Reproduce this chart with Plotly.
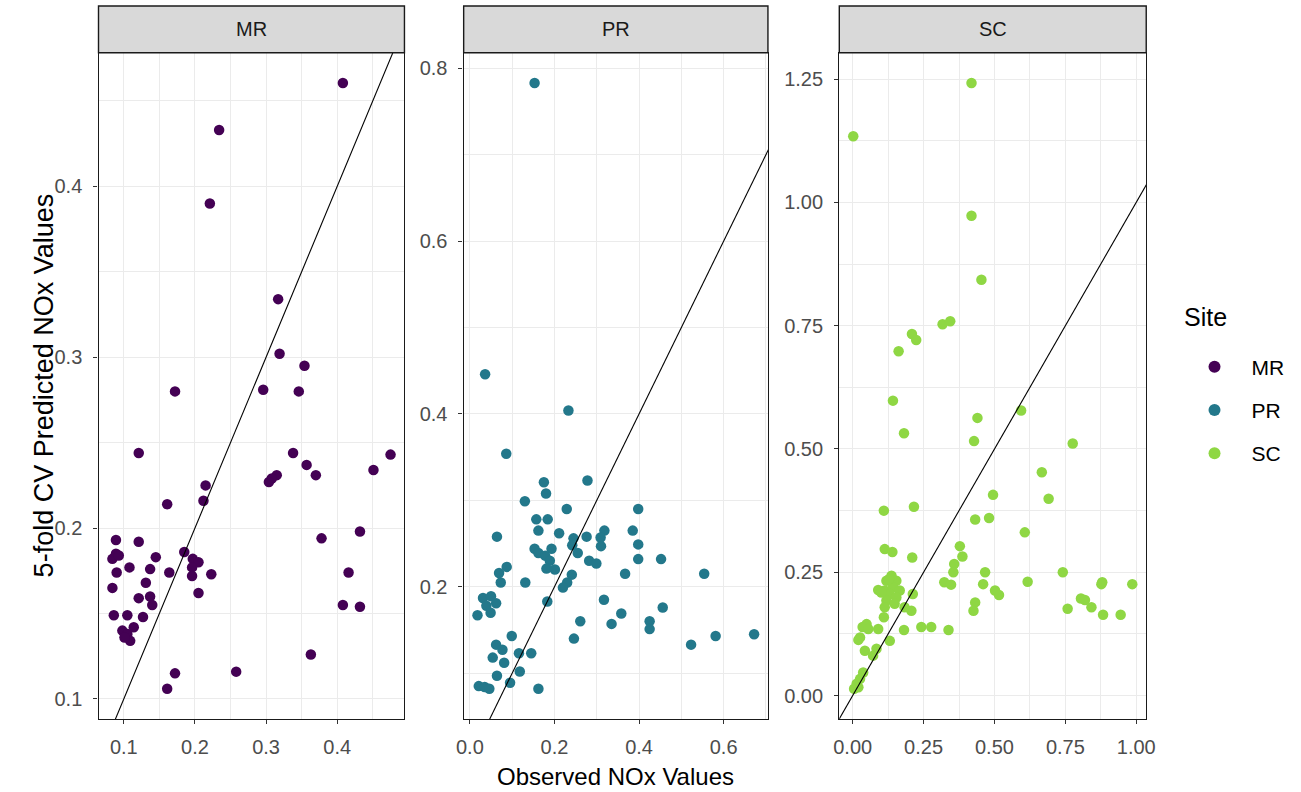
import plotly.graph_objects as go

W, H = 1301, 792

sites = ["MR", "PR", "SC"]
colors = ["#440154", "#23788B", "#8FD744"]

mr_x = [0.319,0.354,0.172,0.296,0.346,0.121,0.338,0.475,0.357,0.451,0.370,0.315,0.308,0.304,0.215,0.212,0.161,0.432,0.378,0.089,
        0.121,0.089,0.084,0.093,0.145,0.185,0.197,0.205,0.196,0.196,0.223,0.164,0.090,0.108,0.137,0.131,0.084,0.205,0.121,0.137,
        0.140,0.086,0.105,0.127,0.098,0.105,0.114,0.109,0.101,0.408,0.432,0.416,0.363,0.258,0.172,0.161,0.408,0.234,0.221,0.317]
mr_y = [0.302,0.295,0.280,0.281,0.280,0.244,0.244,0.243,0.237,0.234,0.231,0.231,0.229,0.227,0.225,0.216,0.214,0.198,0.194,0.193,
        0.192,0.185,0.182,0.184,0.183,0.186,0.182,0.180,0.177,0.172,0.173,0.174,0.174,0.177,0.176,0.168,0.165,0.162,0.159,0.160,
        0.155,0.149,0.149,0.148,0.140,0.138,0.142,0.134,0.136,0.155,0.154,0.174,0.126,0.116,0.115,0.106,0.4605,0.433,0.390,0.334]

pr_x = [0.036,0.233,0.086,0.278,0.175,0.180,0.130,0.229,0.398,0.157,0.184,0.162,0.211,0.064,0.245,0.276,0.318,0.309,0.385,0.310,
        0.398,0.242,0.255,0.153,0.193,0.162,0.178,0.189,0.181,0.201,0.282,0.299,0.398,0.452,0.367,0.554,0.241,0.230,0.220,0.087,
        0.069,0.073,0.131,0.031,0.050,0.062,0.039,0.049,0.018,0.183,0.317,0.456,0.358,0.261,0.335,0.425,0.425,0.672,0.581,0.523,
        0.246,0.099,0.062,0.077,0.054,0.081,0.116,0.145,0.064,0.118,0.095,0.021,0.035,0.046,0.162,0.153]
pr_y = [0.446,0.404,0.354,0.323,0.321,0.308,0.299,0.290,0.290,0.278,0.278,0.265,0.262,0.258,0.256,0.258,0.265,0.257,0.265,0.247,
        0.249,0.248,0.239,0.244,0.244,0.239,0.236,0.230,0.221,0.220,0.230,0.227,0.232,0.232,0.215,0.215,0.214,0.205,0.199,0.223,
        0.216,0.205,0.205,0.187,0.189,0.181,0.178,0.170,0.167,0.183,0.185,0.176,0.169,0.160,0.157,0.160,0.151,0.145,0.143,0.133,
        0.140,0.143,0.133,0.127,0.118,0.112,0.123,0.123,0.097,0.102,0.089,0.085,0.084,0.082,0.082,0.783]

sc_x = [0.142,0.440,0.594,0.181,0.428,0.776,0.667,0.495,0.691,0.110,0.216,0.432,0.481,0.607,0.113,0.140,0.210,0.378,0.387,0.358,
        0.355,0.467,0.741,0.323,0.347,0.460,0.617,0.502,0.516,0.880,0.986,0.877,0.212,0.432,0.426,0.758,0.805,0.819,0.842,0.883,
        0.945,0.181,0.242,0.277,0.338,0.137,0.154,0.119,0.090,0.113,0.142,0.166,0.131,0.154,0.119,0.148,0.113,0.207,0.183,0.110,
        0.090,0.049,0.035,0.055,0.026,0.020,0.131,0.043,0.072,0.084,0.037,0.026,0.014,0.005,0.020,0.101,0.128,0.002,0.419,0.419,
        0.454,0.162,0.209,0.224,0.317,0.344]
sc_y = [0.598,0.563,0.578,0.532,0.516,0.511,0.453,0.407,0.399,0.375,0.383,0.357,0.360,0.331,0.297,0.291,0.280,0.303,0.282,0.267,
        0.250,0.250,0.250,0.230,0.225,0.226,0.231,0.213,0.204,0.230,0.226,0.226,0.206,0.189,0.172,0.176,0.197,0.194,0.179,0.164,
        0.164,0.133,0.139,0.139,0.133,0.243,0.233,0.233,0.214,0.213,0.220,0.213,0.206,0.199,0.193,0.186,0.179,0.172,0.179,0.159,
        0.135,0.145,0.139,0.135,0.118,0.113,0.111,0.091,0.081,0.095,0.047,0.034,0.024,0.014,0.017,0.209,0.236,1.134,1.242,0.973,
        0.843,0.698,0.733,0.721,0.753,0.759]

xs = [mr_x, pr_x, sc_x]
ys = [mr_y, pr_y, sc_y]
x_dticks = [0.1, 0.2, 0.25]
y_dticks = [0.1, 0.2, 0.25]
x_fmt = [".1f", ".1f", ".2f"]
y_fmt = [".1f", ".1f", ".2f"]

# panel pixel boxes (left, right); shared top/bottom
panels_px = [(91.7, 401.7), (461.7, 770.0), (842.3, 1153.3)]
top_px, bot_px, strip_top_px = 52.7, 719.0, 6.0

FONT = "Liberation Sans, Arial, sans-serif"
TICK = 20
STRIP = 20
TITLE = 24
YTITLE = 27
LEG = 21
LEGTITLE = 25

def px(x):
    return x / W

def py(y):
    return 1 - y / H

def expand(v):
    lo, hi = min(v), max(v)
    d = (hi - lo) * 0.05
    return [lo - d, hi + d]

fig = go.Figure()
layout = {}
shapes = []
annotations = []

for i, s in enumerate(sites):
    n = i + 1
    xa = "x" if n == 1 else f"x{n}"
    ya = "y" if n == 1 else f"y{n}"
    xr = expand(xs[i])
    yr = expand(ys[i])
    fig.add_trace(go.Scatter(
        x=xs[i], y=ys[i], mode="markers", name=s, legendgroup=s,
        marker=dict(color=colors[i], size=10.5, line=dict(width=0)),
        xaxis=xa, yaxis=ya, cliponaxis=True))
    lo = min(xr[0], yr[0]); hi = max(xr[1], yr[1])
    fig.add_trace(go.Scatter(
        x=[lo, hi], y=[lo, hi], mode="lines", showlegend=False,
        line=dict(color="black", width=1.1), xaxis=xa, yaxis=ya, hoverinfo="skip"))

    l, r = panels_px[i]
    common = dict(
        showgrid=True, gridcolor="#EBEBEB", gridwidth=1.2,
        showline=True, mirror=True, linecolor="#1A1A1A", linewidth=1.4,
        ticks="outside", ticklen=4, tickwidth=1.2, tickcolor="#333333",
        tickfont=dict(family=FONT, size=TICK, color="#4D4D4D"),
        zeroline=False, tick0=0,
    )
    layout["xaxis" if n == 1 else f"xaxis{n}"] = dict(
        common, domain=[px(l), px(r)], range=xr, dtick=x_dticks[i],
        tickformat=x_fmt[i], anchor=ya, ticklabelstandoff=6,
        minor=dict(dtick=x_dticks[i] / 2, tick0=0, showgrid=True,
                   gridcolor="#EBEBEB", gridwidth=0.7, ticks=""))
    layout["yaxis" if n == 1 else f"yaxis{n}"] = dict(
        common, domain=[py(bot_px), py(top_px)], range=yr, dtick=y_dticks[i],
        tickformat=y_fmt[i], anchor=xa, ticklabelstandoff=7,
        minor=dict(dtick=y_dticks[i] / 2, tick0=0, showgrid=True,
                   gridcolor="#EBEBEB", gridwidth=0.7, ticks=""))
    shapes.append(dict(type="rect", xref="paper", yref="paper",
                       x0=px(l), x1=px(r), y0=py(top_px), y1=py(strip_top_px),
                       fillcolor="#D9D9D9", line=dict(color="#1A1A1A", width=1.4)))
    annotations.append(dict(text=s, xref="paper", yref="paper",
                            x=px((l + r) / 2), y=py((top_px + strip_top_px) / 2),
                            showarrow=False, xanchor="center", yanchor="middle",
                            font=dict(family=FONT, size=STRIP, color="#1A1A1A")))

annotations.append(dict(text="Observed NOx Values", xref="paper", yref="paper",
                        x=px((panels_px[1][0] + panels_px[1][1]) / 2), y=py(776),
                        showarrow=False, xanchor="center", yanchor="middle",
                        font=dict(family=FONT, size=TITLE, color="black")))
annotations.append(dict(text="5-fold CV Predicted NOx Values", xref="paper", yref="paper",
                        x=px(36), y=py((top_px + bot_px) / 2), textangle=-90,
                        showarrow=False, xanchor="center", yanchor="middle",
                        font=dict(family=FONT, size=YTITLE, color="black")))
annotations.append(dict(text="Site", xref="paper", yref="paper",
                        x=px(1190), y=py(317), showarrow=False,
                        xanchor="left", yanchor="middle",
                        font=dict(family=FONT, size=LEGTITLE, color="black")))

fig.update_layout(
    width=W, height=H,
    margin=dict(l=0, r=0, t=0, b=0),
    paper_bgcolor="white", plot_bgcolor="white",
    shapes=shapes, annotations=annotations,
    legend=dict(x=px(1185), y=py(410), xanchor="left", yanchor="middle",
                font=dict(family=FONT, size=LEG, color="black"),
                tracegroupgap=13, itemsizing="constant", itemwidth=64,
                bgcolor="rgba(0,0,0,0)"),
    **layout,
)

fig.write_html("out.html", config={"displayModeBar": False},
               post_script="document.body.style.margin='0';")
